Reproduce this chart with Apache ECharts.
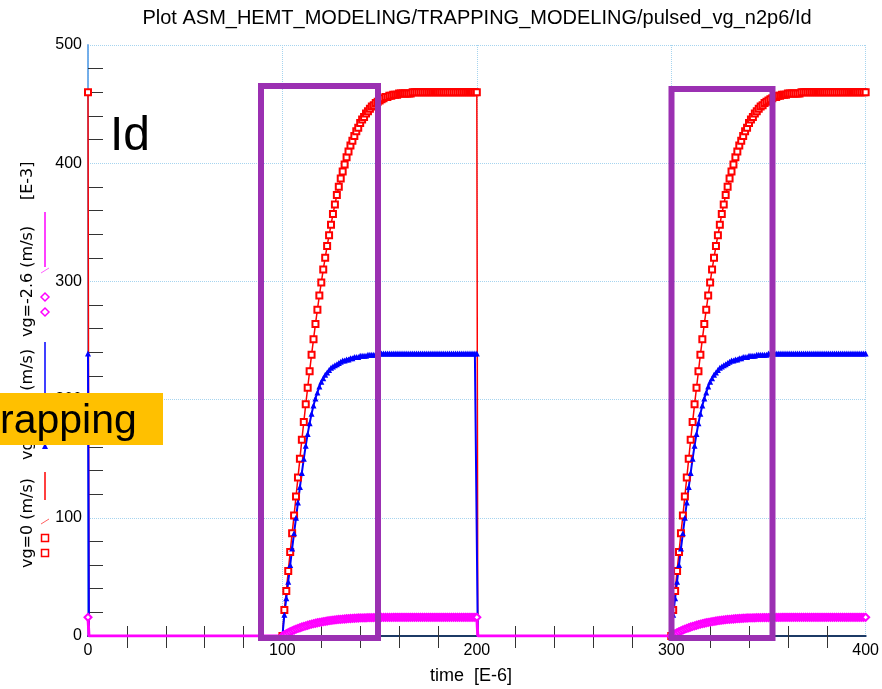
<!DOCTYPE html>
<html>
<head>
<meta charset="utf-8">
<title>pulsed_vg_n2p6 Id</title>
<script src="https://cdn.jsdelivr.net/npm/echarts@6/dist/echarts.min.js"></script>
<style>
html, body { margin: 0; padding: 0; background: #fff; }
#chart { width: 882px; height: 689px; }
</style>
</head>
<body>
<div id="chart"></div>
<script>
// time after the gate pulse switches on  [E-6]
const pulseT = [0, 1, 2, 3, 4, 5, 6, 7, 8, 9, 10, 11, 12, 13, 14, 15, 16, 17, 18, 19,
    20, 21, 22, 23, 24, 25, 26, 27, 28, 29, 30, 31, 32, 33, 34, 35, 36, 37, 38, 39,
    40, 41, 42, 43, 44, 45, 46, 47, 48, 49, 50, 51, 52, 53, 54, 55, 56, 57, 58, 59,
    60, 61, 62, 63, 64, 65, 66, 67, 68, 69, 70, 71, 72, 73, 74, 75, 76, 77, 78, 79,
    80, 81, 82, 83, 84, 85, 86, 87, 88, 89, 90, 91, 92, 93, 94, 95, 96, 97, 98, 99, 100]
// pulse switches on at these times, and off again 100 later
const pulseStarts = [100, 300]

// Id [E-3] during one pulse
const idVg0 = [0, 22, 38, 55, 71, 87, 102, 118, 134, 150,
    166, 181, 196, 210, 224, 238, 251, 264, 276, 288,
    299, 310, 320, 330, 339, 348, 357, 365, 373, 380,
    387, 393, 399, 405, 410, 415, 419, 423, 427, 430,
    434, 437, 439, 442, 444, 446, 448, 449, 451, 452,
    453, 454, 455, 456, 456, 457, 457, 458, 458, 458,
    459, 459, 459, 459, 459, 459, 459, 460, 460, 460,
    460, 460, 460, 460, 460, 460, 460, 460, 460, 460,
    460, 460, 460, 460, 460, 460, 460, 460, 460, 460,
    460, 460, 460, 460, 460, 460, 460, 460, 460, 460, 460]
const idVgN1p3 = [0, 18, 32, 46, 60, 74, 87, 100, 113, 126,
    138, 150, 161, 171, 180, 188, 195, 201, 206, 211,
    215, 218, 221, 223, 225, 227, 228, 229, 230, 231,
    232, 233, 233, 234, 234, 235, 235, 236, 236, 236,
    237, 237, 237, 237, 238, 238, 238, 238, 238, 238,
    239, 239, 239, 239, 239, 239, 239, 239, 239, 239,
    239, 239, 239, 239, 239, 239, 239, 239, 239, 239,
    239, 239, 239, 239, 239, 239, 239, 239, 239, 239,
    239, 239, 239, 239, 239, 239, 239, 239, 239, 239,
    239, 239, 239, 239, 239, 239, 239, 239, 239, 239, 239]
const idVgN2p6 = [0, 1.0, 1.9, 2.8, 3.6, 4.4, 5.1, 5.8, 6.4, 7.0,
    7.6, 8.1, 8.6, 9.1, 9.6, 10.0, 10.4, 10.8, 11.2, 11.5,
    11.8, 12.1, 12.4, 12.7, 13.0, 13.2, 13.4, 13.6, 13.8, 14.0,
    14.1, 14.3, 14.4, 14.6, 14.7, 14.8, 14.9, 15.0, 15.1, 15.2,
    15.3, 15.3, 15.4, 15.4, 15.5, 15.5, 15.5, 15.6, 15.6, 15.6,
    15.6, 15.7, 15.7, 15.7, 15.7, 15.7, 15.7, 15.8, 15.8, 15.8,
    15.8, 15.8, 15.8, 15.8, 15.8, 15.8, 15.8, 15.8, 15.8, 15.8,
    15.8, 15.8, 15.8, 15.8, 15.8, 15.8, 15.8, 15.8, 15.8, 15.8,
    15.8, 15.8, 15.8, 15.8, 15.8, 15.8, 15.8, 15.8, 15.8, 15.8,
    15.8, 15.8, 15.8, 15.8, 15.8, 15.8, 15.8, 15.8, 15.8, 15.8, 15.8]

// Id at t=0 (DC start point), before the first off phase
const startVg0 = 460
const startVgN1p3 = 239
const startVgN2p6 = 15.8

const xTicks = [0, 100, 200, 300, 400]
const yTicks = [0, 100, 200, 300, 400, 500]

const purple = '#9b30b2'
const frameBlue = '#3a7bd5'
const gridBlue = '#a6d4ef'

// whole trace: start point, off, pulse, off, pulse
function pulsedTrace(startLevel, response) {
    const data = [[0, startLevel], { value: [0.5, 0], symbol: 'none' }]
    pulseStarts.forEach(function (t0, k) {
        pulseT.forEach(function (dt, i) { data.push([t0 + dt, response[i]]) })
        if (k < pulseStarts.length - 1) data.push({ value: [t0 + 100.5, 0], symbol: 'none' })
    })
    return data
}

function vText(txt, x, y) {
    return {
        type: 'text', x: x, y: y, rotation: Math.PI / 2, z: 50,
        style: { text: txt, font: '16px "DejaVu Sans"', fill: '#000', align: 'left', verticalAlign: 'middle' }
    }
}
function vLine(x, y1, y2, color) {
    return { type: 'line', z: 50, shape: { x1: x, y1: y1, x2: x, y2: y2 }, style: { stroke: color, lineWidth: 1.5 } }
}
function slash(x, y, color) {
    return { type: 'line', z: 50, shape: { x1: x - 4, y1: y + 3, x2: x + 4, y2: y - 2 }, style: { stroke: color, lineWidth: 1 } }
}
function square(x, y) {
    return { type: 'rect', z: 50, shape: { x: x - 3.5, y: y - 3.5, width: 7, height: 7 }, style: { fill: '#fff', stroke: '#ff0000', lineWidth: 1.5 } }
}
function diamond(x, y) {
    return { type: 'polygon', z: 50, shape: { points: [[x - 4, y], [x, y - 4], [x + 4, y], [x, y + 4]] }, style: { fill: '#fff', stroke: '#ff00ff', lineWidth: 1.5 } }
}
function triangle(x, y) {
    return { type: 'polygon', z: 50, shape: { points: [[x - 3, y + 3], [x + 3, y + 3], [x, y - 3]] }, style: { fill: '#0000ff' } }
}

const chart = echarts.init(document.getElementById('chart'))
chart.setOption({
    animation: false,
    backgroundColor: '#fff',
    grid: { left: 88, right: 15, top: 45, bottom: 53 },
    xAxis: [
        {
            type: 'value', min: xTicks[0], max: xTicks[xTicks.length - 1], interval: 100,
            axisLine: { lineStyle: { color: frameBlue, width: 1.5 } },
            axisTick: { show: false, inside: true },
            minorTick: { show: true, splitNumber: 5, length: 10, lineStyle: { color: '#333' } },
            axisLabel: { fontSize: 16, color: '#000', fontFamily: 'Liberation Sans', margin: 7 },
            splitLine: { show: true, lineStyle: { color: gridBlue, type: 'dotted' } }
        },
        {
            type: 'value', position: 'top', min: xTicks[0], max: xTicks[xTicks.length - 1], interval: 100,
            axisLine: { lineStyle: { color: '#1c3a66', width: 2 } },
            axisTick: { show: false, inside: true },
            minorTick: { show: true, splitNumber: 5, length: 12, lineStyle: { color: '#333' } },
            axisLabel: { show: false },
            splitLine: { show: false }
        }
    ],
    yAxis: [
        {
            type: 'value', min: yTicks[0], max: yTicks[yTicks.length - 1], interval: 100,
            axisLine: { show: true, lineStyle: { color: frameBlue, width: 1.5 } },
            axisTick: { show: false, inside: true },
            minorTick: { show: true, splitNumber: 5, length: 15, lineStyle: { color: '#333' } },
            axisLabel: { fontSize: 16, color: '#000', fontFamily: 'Liberation Sans', margin: 6 },
            splitLine: { show: true, lineStyle: { color: gridBlue, type: 'dotted' } }
        },
        {
            type: 'value', position: 'right', min: yTicks[0], max: yTicks[yTicks.length - 1], interval: 100,
            axisLine: { show: true, lineStyle: { color: '#79b6ee', width: 1.5 } },
            axisTick: { show: false }, axisLabel: { show: false }, splitLine: { show: false }
        }
    ],
    series: [
        {
            name: 'vg=0', type: 'line', data: pulsedTrace(startVg0, idVg0),
            symbol: 'emptyRect', symbolSize: 6, showAllSymbol: true,
            lineStyle: { color: '#ff0000', width: 1.5 },
            itemStyle: { color: '#ff0000', borderWidth: 1.5 }
        },
        {
            name: 'vg=-1.3', type: 'line', data: pulsedTrace(startVgN1p3, idVgN1p3),
            symbol: 'triangle', symbolSize: 6, showAllSymbol: true,
            lineStyle: { color: '#0000ff', width: 2 },
            itemStyle: { color: '#0000ff' }
        },
        {
            name: 'vg=-2.6', type: 'line', data: pulsedTrace(startVgN2p6, idVgN2p6),
            symbol: 'emptyDiamond', symbolSize: 7, showAllSymbol: true,
            lineStyle: { color: '#ff00ff', width: 3 },
            itemStyle: { color: '#ff00ff', borderWidth: 1.5 }
        }
    ],
    graphic: [
        {
            type: 'text', x: 477, y: 18, z: 50,
            style: { text: 'Plot ASM_HEMT_MODELING/TRAPPING_MODELING/pulsed_vg_n2p6/Id', font: '20px "Liberation Sans"', fill: '#000', align: 'center', verticalAlign: 'middle' }
        },
        {
            type: 'text', x: 471, y: 676, z: 50,
            style: { text: 'time  [E-6]', font: '18px "Liberation Sans"', fill: '#000', align: 'center', verticalAlign: 'middle' }
        },
        // y axis title with the legend keys, rotated
        vText('vg=0 (m/s)', 28, 568),
        square(45, 553), square(45, 538), slash(45, 521, '#ff6060'), vLine(45, 500, 472, '#ff0000'),
        vText('vg=-1.3 (m/s)', 28, 460),
        triangle(45, 446), triangle(45, 431), slash(45, 413, '#6060ff'), vLine(45, 400, 342, '#0000ff'),
        vText('vg=-2.6 (m/s)', 28, 337),
        diamond(45, 312), diamond(45, 297), slash(45, 270, '#ff60ff'), vLine(45, 267, 212, '#ff00ff'),
        vText('[E-3]', 28, 200),
        // annotations
        {
            type: 'text', x: 110, y: 137, z: 60,
            style: { text: 'Id', font: '48px "Liberation Sans"', fill: '#000', align: 'left', verticalAlign: 'middle' }
        },
        { type: 'rect', z: 60, shape: { x: 261, y: 86, width: 117, height: 552 }, style: { fill: null, stroke: purple, lineWidth: 6 } },
        { type: 'rect', z: 60, shape: { x: 671.5, y: 89, width: 101, height: 549 }, style: { fill: null, stroke: purple, lineWidth: 6 } },
        { type: 'rect', z: 70, shape: { x: 0, y: 393, width: 163, height: 52 }, style: { fill: '#ffc000' } },
        {
            type: 'text', x: 0, y: 422, z: 71,
            style: { text: 'rapping', font: '41px "Liberation Sans"', fill: '#000', align: 'left', verticalAlign: 'middle' }
        }
    ]
})
</script>
</body>
</html>
